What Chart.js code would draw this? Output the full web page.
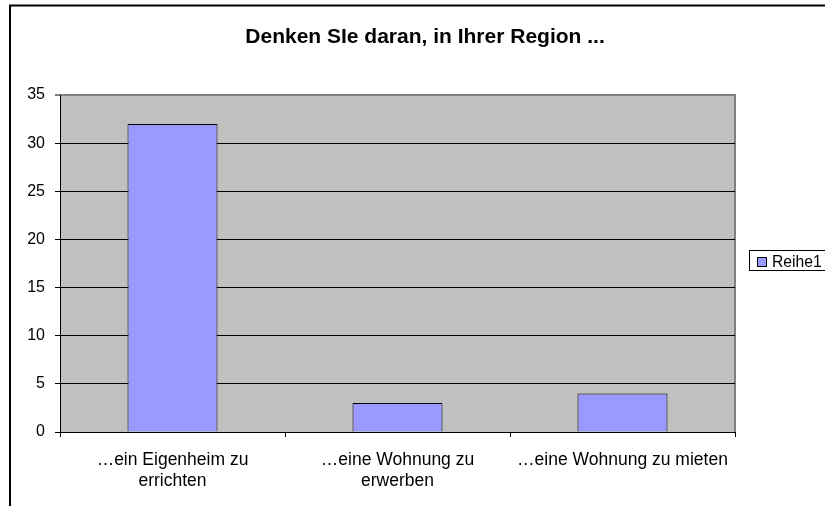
<!DOCTYPE html>
<html>
<head>
<meta charset="utf-8">
<script src="https://cdn.jsdelivr.net/npm/chart.js@4"></script>
<style>
  html, body { margin: 0; padding: 0; background: #fff; }
  #wrap { width: 825px; height: 506px; }
</style>
</head>
<body>
<div id="wrap"><canvas id="chart" width="825" height="506"></canvas></div>
<script>
const titel = 'Denken SIe daran, in Ihrer Region ...';
const kategorien = [
  ['…ein Eigenheim zu', 'errichten'],
  ['…eine Wohnung zu', 'erwerben'],
  '…eine Wohnung zu mieten'
];
const reihe1 = [32, 3, 4];
const reiheName = 'Reihe1';
const yTicks = [0, 5, 10, 15, 20, 25, 30, 35];

const schrift = 'Liberation Sans, Arial, sans-serif';

// Rahmen, Plotfläche, Titel und Legende im Excel-Stil
const excelStil = {
  id: 'excelStil',
  beforeDraw(chart) {
    const ctx = chart.ctx;
    const a = chart.chartArea;
    ctx.save();
    ctx.fillStyle = '#fff';
    ctx.fillRect(0, 0, chart.width, chart.height);
    // äußerer Rahmen
    ctx.strokeStyle = '#000';
    ctx.lineWidth = 2;
    ctx.strokeRect(10, 5.5, 900, 600);
    // Plotfläche
    ctx.fillStyle = '#c0c0c0';
    ctx.fillRect(a.left, a.top, a.right - a.left, a.bottom - a.top);
    ctx.strokeStyle = '#808080';
    ctx.lineWidth = 2;
    ctx.beginPath();
    ctx.moveTo(a.left, a.top);
    ctx.lineTo(a.right, a.top);
    ctx.lineTo(a.right, a.bottom);
    ctx.stroke();
    // Titel
    ctx.fillStyle = '#000';
    ctx.font = 'bold 21px ' + schrift;
    ctx.textAlign = 'center';
    ctx.textBaseline = 'alphabetic';
    ctx.fillText(titel, 425, 43);
    // Legende
    const ds = chart.data.datasets[0];
    ctx.lineWidth = 1;
    ctx.strokeStyle = '#000';
    ctx.strokeRect(749.5, 250.5, 90, 20);
    ctx.fillStyle = ds.backgroundColor;
    ctx.fillRect(757.5, 257.5, 9, 9);
    ctx.strokeRect(757.5, 257.5, 9, 9);
    ctx.fillStyle = '#000';
    ctx.font = '15.7px ' + schrift;
    ctx.textAlign = 'left';
    ctx.fillText(ds.label, 772, 267);
    ctx.restore();
  }
};

new Chart(document.getElementById('chart'), {
  type: 'bar',
  data: {
    labels: kategorien,
    datasets: [{
      label: reiheName,
      data: reihe1,
      backgroundColor: '#9999ff',
      borderColor: '#000',
      borderWidth: 1,
      barPercentage: 0.4,
      categoryPercentage: 1
    }]
  },
  options: {
    responsive: false,
    animation: false,
    layout: { padding: { left: 0, top: 95, right: 90, bottom: 0 } },
    plugins: {
      legend: { display: false },
      title: { display: false },
      tooltip: { enabled: false }
    },
    scales: {
      x: {
        afterFit: s => { s.height = 74; },
        grid: {
          offset: true,
          drawOnChartArea: false,
          tickLength: 5,
          color: '#000'
        },
        border: { color: '#000', width: 1 },
        ticks: {
          color: '#000',
          font: { family: schrift, size: 17.5, lineHeight: 1.2 },
          padding: 13,
          maxRotation: 0,
          autoSkip: false
        }
      },
      y: {
        min: 0,
        max: 35,
        afterFit: s => { s.width = 60; },
        afterBuildTicks: s => { s.ticks = yTicks.map(v => ({ value: v })); },
        grid: {
          tickLength: 5,
          color: c => (c.tick && c.tick.value === 35 ? '#808080' : '#000'),
          lineWidth: c => (c.tick && c.tick.value === 35 ? 2 : 1)
        },
        border: { color: '#000', width: 1 },
        ticks: {
          color: '#000',
          font: { family: schrift, size: 16 },
          padding: 10
        }
      }
    }
  },
  plugins: [excelStil]
});
</script>
</body>
</html>
